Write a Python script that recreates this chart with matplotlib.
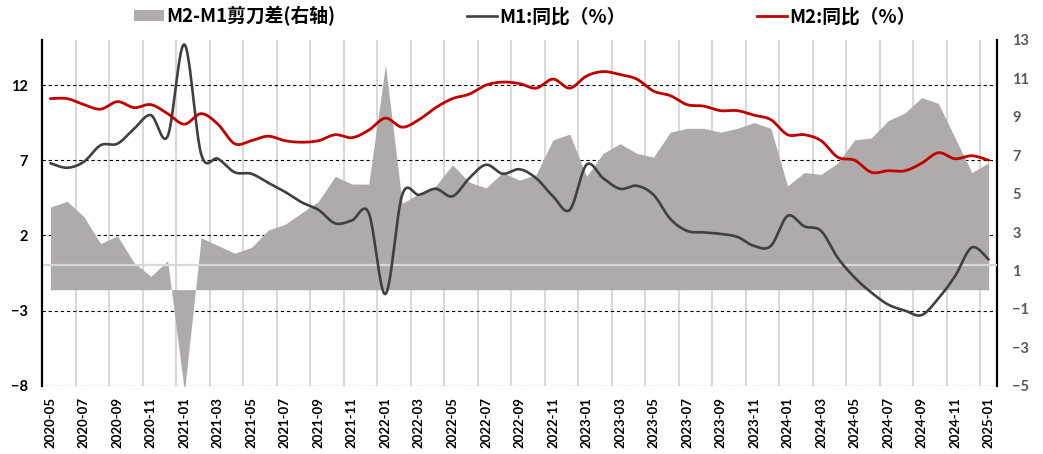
import numpy as np
import matplotlib
matplotlib.use('Agg')
import matplotlib.pyplot as plt
from matplotlib.patches import Patch
from matplotlib.lines import Line2D
from matplotlib.font_manager import FontProperties

plt.rcParams['font.family'] = ['Lato', 'Noto Sans CJK SC', 'DejaVu Sans']
plt.rcParams['axes.unicode_minus'] = True

months = ['2020-05', '2020-06', '2020-07', '2020-08', '2020-09', '2020-10', '2020-11', '2020-12',
          '2021-01', '2021-02', '2021-03', '2021-04', '2021-05', '2021-06', '2021-07', '2021-08',
          '2021-09', '2021-10', '2021-11', '2021-12', '2022-01', '2022-02', '2022-03', '2022-04',
          '2022-05', '2022-06', '2022-07', '2022-08', '2022-09', '2022-10', '2022-11', '2022-12',
          '2023-01', '2023-02', '2023-03', '2023-04', '2023-05', '2023-06', '2023-07', '2023-08',
          '2023-09', '2023-10', '2023-11', '2023-12', '2024-01', '2024-02', '2024-03', '2024-04',
          '2024-05', '2024-06', '2024-07', '2024-08', '2024-09', '2024-10', '2024-11', '2024-12',
          '2025-01']

m2_yoy = [11.1, 11.1, 10.7, 10.4, 10.9, 10.5, 10.7, 10.1,
          9.4, 10.1, 9.4, 8.1, 8.3, 8.6, 8.3, 8.2, 8.3, 8.7, 8.5, 9.0,
          9.8, 9.2, 9.7, 10.5, 11.1, 11.4, 12.0, 12.2, 12.1, 11.8, 12.4, 11.8,
          12.6, 12.9, 12.7, 12.4, 11.6, 11.3, 10.7, 10.6, 10.3, 10.3, 10.0, 9.7,
          8.7, 8.7, 8.3, 7.2, 7.0, 6.2, 6.3, 6.3, 6.8, 7.5, 7.1, 7.3, 7.0]

m1_yoy = [6.8, 6.5, 6.9, 8.0, 8.1, 9.1, 10.0, 8.6,
          14.7, 7.4, 7.1, 6.2, 6.1, 5.5, 4.9, 4.2, 3.7, 2.8, 3.0, 3.5,
          -1.9, 4.7, 4.7, 5.1, 4.6, 5.8, 6.7, 6.1, 6.4, 5.8, 4.6, 3.7,
          6.7, 5.8, 5.1, 5.3, 4.7, 3.1, 2.3, 2.2, 2.1, 1.9, 1.3, 1.3,
          3.3, 2.6, 2.3, 0.5, -0.8, -1.8, -2.6, -3.0, -3.3, -2.2, -0.7, 1.2, 0.4]

spread = [4.3, 4.6, 3.8, 2.4, 2.8, 1.4, 0.7, 1.5,
          -5.3, 2.7, 2.3, 1.9, 2.2, 3.1, 3.4, 4.0, 4.6, 5.9, 5.5, 5.5,
          11.7, 4.5, 5.0, 5.4, 6.5, 5.6, 5.3, 6.1, 5.7, 6.0, 7.8, 8.1,
          5.9, 7.1, 7.6, 7.1, 6.9, 8.2, 8.4, 8.4, 8.2, 8.4, 8.7, 8.4,
          5.4, 6.1, 6.0, 6.6, 7.8, 7.9, 8.8, 9.2, 10.0, 9.7, 7.9, 6.1, 6.6]

left_ticks = [-8, -3, 2, 7, 12]
right_ticks = [-5, -3, -1, 1, 3, 5, 7, 9, 11, 13]
LLO, LHI = -8, 15
RLO, RHI = -5, 13

legend_labels = ['M2-M1剪刀差(右轴)', 'M1:同比（%）', 'M2:同比（%）']


def smooth_curve(yvals, n=24):
    """Excel-style smoothed line (cardinal Bezier through the points)."""
    y = np.asarray(yvals, float)
    x = np.arange(len(y), dtype=float)
    P = np.column_stack([x, y])
    Pext = np.vstack([P[0], P, P[-1]])
    out = []
    t = np.linspace(0, 1, n, endpoint=False)[:, None]
    for i in range(len(P) - 1):
        p0, p1, p2, p3 = Pext[i], Pext[i + 1], Pext[i + 2], Pext[i + 3]
        c1 = p1 + (p2 - p0) / 6.0
        c2 = p2 - (p3 - p1) / 6.0
        seg = ((1 - t) ** 3) * p1 + 3 * ((1 - t) ** 2) * t * c1 + 3 * (1 - t) * t ** 2 * c2 + t ** 3 * p2
        out.append(seg)
    out.append(P[-1][None, :])
    out = np.vstack(out)
    return out[:, 0], out[:, 1]


def l2r(v):
    return RLO + (v - LLO) * (RHI - RLO) / (LHI - LLO)


fig = plt.figure(figsize=(10.43, 4.54), dpi=100)
rect = [42 / 1043, 1 - 385.7 / 454, (997 - 42) / 1043, (385.7 - 40) / 454]
ax = fig.add_axes(rect)
ax2 = ax.twinx()
ax.set_zorder(ax2.get_zorder() + 1)
ax.patch.set_visible(False)

x = np.arange(len(months))

# background grid (under the area) on ax2
for k in range(1, len(months) // 2 + 1):
    ax2.axvline(2 * k - 0.5, color='#D9D9D9', lw=1.5, zorder=0)
for v in left_ticks:
    ax2.axhline(l2r(v), color='black', lw=0.8, ls=(0, (3, 2.5)), zorder=0.5)

# area (right axis)
ax2.fill_between(x, 0, spread, color='#AFABAB', lw=0, zorder=1)
ax2.set_ylim(RLO, RHI)
ax2.set_yticks(right_ticks)
ax2.tick_params(axis='y', length=0, pad=11, labelsize=10.5, labelcolor='#595959')
for lab in ax2.get_yticklabels():
    lab.set_fontweight('bold')

# lines (left axis)
ax.axhline(0, color='#D9D9D9', lw=1.6, zorder=2)
sx, sy = smooth_curve(m1_yoy)
ax.plot(sx, sy, color='#404040', lw=1.9, zorder=3, solid_capstyle='round')
sx, sy = smooth_curve(m2_yoy)
ax.plot(sx, sy, color='#C00000', lw=2.0, zorder=4, solid_capstyle='round')

ax.set_ylim(LLO, LHI)
ax.set_xlim(-0.5, len(months) - 0.5)
ax.set_yticks(left_ticks)
ax.tick_params(axis='y', length=0, pad=10, labelsize=10.5, labelcolor='black')
for lab in ax.get_yticklabels():
    lab.set_fontweight('bold')

ticks = list(range(0, len(months), 2))
ax.set_xticks(ticks)
ax.set_xticklabels([months[i] for i in ticks], rotation=90, fontsize=9.5, fontweight='bold')
ax.tick_params(axis='x', length=0, pad=8)
ax2.tick_params(axis='x', bottom=False, labelbottom=False)

for a in (ax, ax2):
    a.spines['top'].set_visible(False)
    a.spines['bottom'].set_visible(False)
ax.spines['left'].set_linewidth(1.6)
ax.spines['right'].set_visible(False)
ax2.spines['left'].set_visible(False)
ax2.spines['right'].set_linewidth(1.6)

handles = [Patch(facecolor='#AFABAB', edgecolor='none'),
           Line2D([], [], color='#404040', lw=1.9),
           Line2D([], [], color='#C00000', lw=2.0)]
fig.legend(handles, legend_labels, loc='center', bbox_to_anchor=(525 / 1043, 1 - 16 / 454),
           ncol=3, frameon=False,
           prop=FontProperties(family=['Noto Sans CJK SC', 'DejaVu Sans'], weight='bold', size=13.5),
           handlelength=1.6, handleheight=0.55, handletextpad=0.12, columnspacing=7.0,
           borderpad=0, borderaxespad=0)

fig.savefig('out.png', dpi=100)
